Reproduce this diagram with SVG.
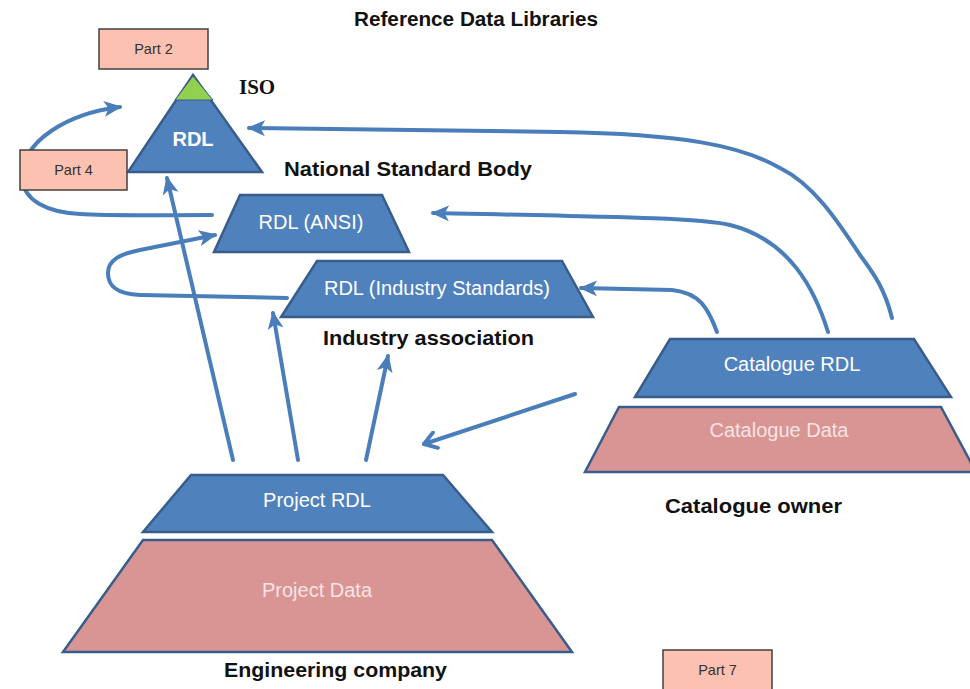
<svg xmlns="http://www.w3.org/2000/svg" width="970" height="689" viewBox="0 0 970 689">
<style>
.blue{fill:#4f81bd;stroke:#385d8a;stroke-width:2.5;stroke-linejoin:miter}
.pink{fill:#d99594;stroke:#385d8a;stroke-width:2.5}
.part{fill:#fcc1b1;stroke:#404040;stroke-width:1.5}
.conn{fill:none;stroke:#4a7ebb;stroke-width:4;stroke-linecap:round}
.inw{font-family:"Liberation Sans",Arial,sans-serif;font-size:20px;fill:#ffffff;text-anchor:middle}
.inp{font-family:"Liberation Sans",Arial,sans-serif;font-size:20px;fill:#f7e4e3;text-anchor:middle}
.lbl{font-family:"Liberation Sans",Arial,sans-serif;font-size:21px;font-weight:bold;fill:#111}
.ptxt{font-family:"Liberation Sans",Arial,sans-serif;font-size:14.5px;fill:#333;text-anchor:middle}
</style>
<defs>
<marker id="stealth" markerUnits="userSpaceOnUse" markerWidth="20" markerHeight="18" refX="16" refY="8" orient="auto" viewBox="0 0 20 16">
<path d="M0,0 L18,8 L0,16 L4.5,8 z" fill="#4a7ebb"/>
</marker>
<marker id="openv" markerUnits="userSpaceOnUse" markerWidth="20" markerHeight="20" refX="15" refY="10" orient="auto" viewBox="0 0 20 20">
<path d="M3,2 L15,10 L3,18" fill="none" stroke="#4a7ebb" stroke-width="4" stroke-linecap="round" stroke-linejoin="round"/>
</marker>
</defs>
<rect width="970" height="689" fill="#ffffff"/>

<g id="connectors">
<path class="conn" marker-end="url(#stealth)" d="M233,460 L167,178"/>
<path class="conn" marker-end="url(#stealth)" d="M298,460 L273,313"/>
<path class="conn" marker-end="url(#stealth)" d="M366,460 L388,356"/>
<path class="conn" marker-end="url(#openv)" d="M575,394 L424,444"/>
<path class="conn" marker-end="url(#stealth)" d="M717,332 C708,308 700,293 672,290 L581,288"/>
<path class="conn" marker-end="url(#stealth)" d="M828,332 C815,290 790,240 730,225 C700,218 620,217 433,213"/>
<path class="conn" marker-end="url(#stealth)" d="M892,318 C885,290 875,275 860,255 C840,225 815,185 780,168 C740,145 680,134 560,132 L249,128"/>
<path class="conn" marker-end="url(#stealth)" d="M212,215 C160,215 110,216 80,214 C45,212 25,200 22,180 C20,140 70,113 120,107"/>
<path class="conn" marker-end="url(#stealth)" d="M287,298 L140,295 C115,294 108,285 108,273 C108,260 120,254 140,250 C165,245 190,240 215,235"/>
</g>

<text class="lbl" x="354" y="26" textLength="244" lengthAdjust="spacingAndGlyphs" style="font-size:20px">Reference Data Libraries</text>

<g id="part2">
<rect class="part" x="99" y="29" width="109" height="40"/>
<text class="ptxt" x="153.5" y="54">Part 2</text>
</g>

<g id="iso-rdl">
<polygon class="blue" points="193,75 262,172 128,172"/>
<polygon points="193,76 213,100 175,100" fill="#92d050" stroke="#385d8a" stroke-width="1"/>
<text class="inw" x="193" y="146" style="font-weight:bold">RDL</text>
<text x="239" y="94" style="font-family:'Liberation Serif','Times New Roman',serif;font-size:21px;font-weight:bold;fill:#111">ISO</text>
</g>

<g id="part4">
<rect class="part" x="20" y="150" width="107" height="40"/>
<text class="ptxt" x="73.5" y="175">Part 4</text>
</g>

<text class="lbl" x="284" y="176" textLength="248" lengthAdjust="spacingAndGlyphs">National Standard Body</text>

<g id="rdl-ansi">
<polygon class="blue" points="240,195 382,195 409,252 214,252"/>
<text class="inw" x="311" y="229">RDL (ANSI)</text>
</g>

<g id="rdl-industry">
<polygon class="blue" points="317,261 562,261 593,317 281,317"/>
<text class="inw" x="437" y="295">RDL (Industry Standards)</text>
<text class="lbl" x="323" y="345" textLength="211" lengthAdjust="spacingAndGlyphs">Industry association</text>
</g>

<g id="catalogue">
<polygon class="blue" points="670,339 914,339 951,397 635,397"/>
<text class="inw" x="792" y="371">Catalogue RDL</text>
<polygon class="pink" points="619,407 941,407 976,472 585,472"/>
<text class="inp" x="779" y="437">Catalogue Data</text>
<text class="lbl" x="665" y="513" textLength="177" lengthAdjust="spacingAndGlyphs">Catalogue owner</text>
</g>

<g id="project">
<polygon class="blue" points="191,475 443,475 492,532 143,532"/>
<text class="inw" x="317" y="507">Project RDL</text>
<polygon class="pink" points="143,540 492,540 572,652 63,652"/>
<text class="inp" x="317" y="597">Project Data</text>
<text class="lbl" x="224" y="677" textLength="223" lengthAdjust="spacingAndGlyphs">Engineering company</text>
</g>

<g id="part7">
<rect class="part" x="663" y="650" width="109" height="50"/>
<text class="ptxt" x="717.5" y="675">Part 7</text>
</g>
</svg>
